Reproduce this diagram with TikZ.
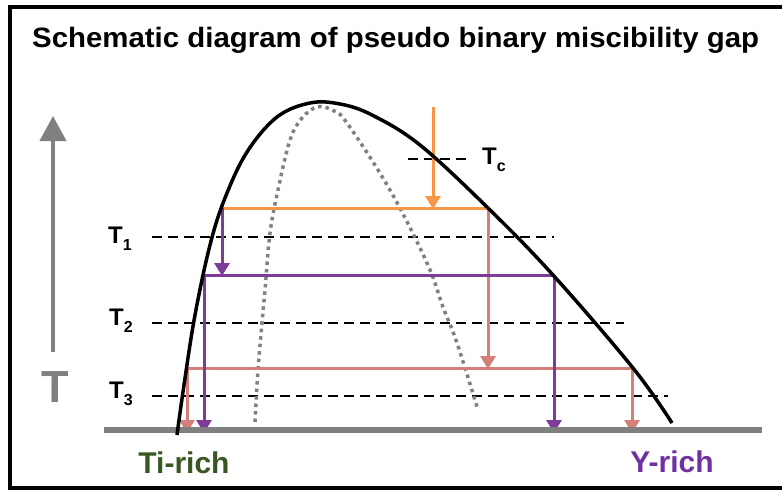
\documentclass[tikz,border=0pt]{standalone}
\usepackage{fontspec}
\setmainfont{Liberation Sans}
\usetikzlibrary{arrows.meta}

\definecolor{coolorange}{RGB}{247,150,70}
\definecolor{coolpurple}{RGB}{125,60,152}
\definecolor{coolpink}{RGB}{214,126,120}
\definecolor{tigreen}{RGB}{56,87,35}
\definecolor{ypurple}{RGB}{112,48,160}
\definecolor{axisgray}{RGB}{128,128,128}

\newcommand{\isolabel}[1]{T\raisebox{-0.32em}{\fontsize{16}{16}\selectfont #1}}

\tikzset{
  tieline/.style={line width=3pt},
  tiearrow/.style={line width=3pt, -{Triangle[width=15pt,length=13pt]}},
  isotherm/.style={line width=2pt, dash pattern=on 10pt off 6pt},
  templabel/.style={anchor=base west, inner sep=0pt, font=\fontsize{24}{24}\selectfont\bfseries},
  richlabel/.style={inner sep=0pt, font=\fontsize{30}{30}\selectfont\bfseries},
}

\begin{document}
\begin{tikzpicture}[x=1pt, y=-1pt]
    \useasboundingbox (0,0) rectangle (782,491);
    \draw[line width=4pt] (782,7) -- (10,7) -- (10,488) -- (782,488);
    \node[anchor=base west, inner sep=0pt, xscale=1.05,
          font=\fontsize{28}{28}\selectfont\bfseries] (title) at (32,47)
          {Schematic diagram of pseudo binary miscibility gap};

    % temperature axis
    \coordinate (Tbot) at (53,352);
    \coordinate (Ttop) at (53,116);
    \draw[axisgray, line width=4pt, -{Triangle[width=26pt,length=25pt]}] (Tbot) -- (Ttop);
    \node[axisgray, inner sep=0pt, font=\fontsize{45}{45}\selectfont\bfseries] (T) at (55,387) {T};

    % isotherms
    \coordinate (Tc-a) at (408,159); \coordinate (Tc-b) at (470,159);
    \coordinate (T1-a) at (152,237); \coordinate (T1-b) at (554,237);
    \coordinate (T2-a) at (152,323); \coordinate (T2-b) at (624,323);
    \coordinate (T3-a) at (152,396); \coordinate (T3-b) at (668,396);
    \foreach \t in {Tc,T1,T2,T3} \draw[isotherm] (\t-a) -- (\t-b);
    \node[templabel] (Tc) at (482,164) {\isolabel{c}};
    \node[templabel] (T1) at (108,243) {\isolabel{1}};
    \node[templabel] (T2) at (109,325) {\isolabel{2}};
    \node[templabel] (T3) at (109,398) {\isolabel{3}};

    % spinodal
    \draw[axisgray, line width=3.5pt, dash pattern=on 3.5pt off 4pt] plot[smooth, tension=0.6] coordinates {
        (255,422) (258,370) (262,323) (265,290) (270,233) (278,190) (290,140)
        (302,118) (317,107) (332,110) (347,123) (390,190) (427,263) (443,307)
        (457,343) (478,410)};

    % tie lines
    \coordinate (o0) at (433,107);
    \coordinate (o1) at (220,208); \coordinate (o2) at (489,208);
    \coordinate (o3) at (433,209);
    \coordinate (p0) at (222,208);
    \coordinate (p1) at (204,275); \coordinate (p2) at (554,275);
    \coordinate (p3) at (222,276);
    \coordinate (r0) at (488,208);
    \coordinate (r1) at (187,368); \coordinate (r2) at (632,368);
    \coordinate (r3) at (488,369);
    \coordinate (b1) at (204,433); \coordinate (b2) at (554,433);
    \coordinate (b3) at (187,433); \coordinate (b4) at (632,433);

    \draw[tiearrow, coolorange] (o0) -- (o3);
    \draw[tieline, coolorange] (o1) -- (o2);
    \draw[tiearrow, coolpink] (r0) -- (r3);
    \draw[tieline, coolpink] (r1) -- (r2);
    \draw[tiearrow, coolpink] (r1) -- (b3);
    \draw[tiearrow, coolpink] (r2) -- (b4);
    \draw[tiearrow, coolpurple] (p0) -- (p3);
    \draw[tieline, coolpurple] (p1) -- (p2);
    \draw[tiearrow, coolpurple] (p1) -- (b1);
    \draw[tiearrow, coolpurple] (p2) -- (b2);

    % composition axis
    \coordinate (base-a) at (104,430); \coordinate (base-b) at (762,430);
    \draw[axisgray, line width=6pt] (base-a) -- (base-b);

    % binodal
    \draw[line width=3.5pt] plot[smooth, tension=0.6] coordinates {
        (177,435) (184,385) (195,315) (210,245) (225,198) (247,152)
        (277,117) (310,103) (340,104) (372,115) (420,145) (488,208) (553,275)
        (633,368) (672,423)};

    \node[richlabel, tigreen] (Ti) at (184,463) {Ti-rich};
    \node[richlabel, ypurple] (Y) at (672,462) {Y-rich};
\end{tikzpicture}
\end{document}
